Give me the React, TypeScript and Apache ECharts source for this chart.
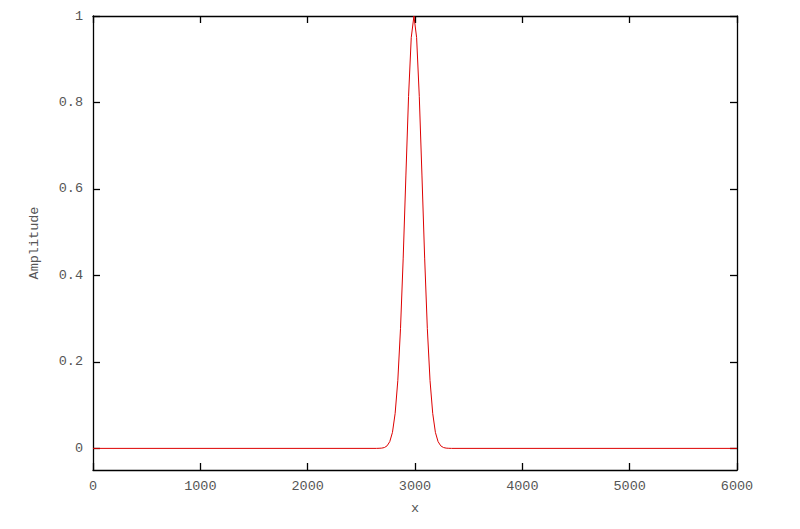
import React, { useEffect, useRef } from "react";
import * as echarts from "echarts";

// Values (25-unit steps around the peak)
const xPositions = [0, 2640, 2665, 2690, 2715, 2740, 2765, 2790, 2815, 2840, 2865, 2890, 2915, 2940, 2965, 2990, 3015, 3040, 3065, 3090, 3115, 3140, 3165, 3190, 3215, 3240, 3265, 3290, 3315, 3340, 6000];
const amplitude = [0, 0, 0.0002, 0.0006, 0.002, 0.0059, 0.0156, 0.037, 0.081, 0.157, 0.277, 0.44, 0.63, 0.814, 0.95, 1, 0.95, 0.814, 0.63, 0.44, 0.277, 0.157, 0.081, 0.037, 0.0156, 0.0059, 0.002, 0.0006, 0.0002, 0, 0];
const yTickValues = [0, 0.2, 0.4, 0.6, 0.8, 1];

const font = "'Liberation Mono', 'DejaVu Sans Mono', monospace";
const textColor = "#555";

export default function App() {
  const ref = useRef<HTMLDivElement>(null);
  useEffect(() => {
    if (!ref.current) return;
    const chart = echarts.init(ref.current, null, { renderer: "svg" });
    const data = xPositions.map((x, i) => [x, amplitude[i]]);
    const axisLine = { show: true, onZero: false, lineStyle: { color: "#000", width: 1.3 } };
    const tick = { show: true, inside: true, length: 7, lineStyle: { color: "#000", width: 1.3 } };
    const lbl = { color: textColor, fontFamily: font, fontSize: 13.5 };
    chart.setOption({
      animation: false,
      backgroundColor: "#fff",
      grid: { left: 93, right: 63, top: 16, bottom: 59 },
      xAxis: [
        {
          type: "value", min: 0, max: 6000, interval: 1000, position: "bottom",
          axisLine, axisTick: tick, splitLine: { show: false },
          axisLabel: { ...lbl, margin: 9, formatter: (v: number) => String(v) },
          name: "x", nameLocation: "middle", nameGap: 31,
          nameTextStyle: { ...lbl },
        },
        {
          type: "value", min: 0, max: 6000, interval: 1000, position: "top",
          axisLine, axisTick: tick, splitLine: { show: false },
          axisLabel: { show: false },
        },
      ],
      yAxis: [
        {
          type: "value", min: -0.05, max: 1, position: "left",
          axisLine, splitLine: { show: false },
          axisTick: { show: false },
          axisLabel: { show: false },
          name: "Amplitude", nameLocation: "middle", nameGap: 52, nameRotate: 90,
          nameTextStyle: { ...lbl },
        },
        {
          type: "value", min: -0.05, max: 1, position: "right",
          axisLine, splitLine: { show: false },
          axisTick: { show: false }, axisLabel: { show: false },
        },
      ],
      series: [
        {
          type: "line", xAxisIndex: 0, yAxisIndex: 0, data,
          showSymbol: false, symbol: "none",
          lineStyle: { color: "#dd0000", width: 1 },
        },
      ],
    });
    const els: any[] = [];
    yTickValues.forEach((v) => {
      const p = chart.convertToPixel({ xAxisIndex: 0, yAxisIndex: 0 }, [0, v]);
      const pr = chart.convertToPixel({ xAxisIndex: 0, yAxisIndex: 0 }, [6000, v]);
      const y = Math.round(p[1]) + 0.5;
      els.push({ type: "line", shape: { x1: p[0], y1: y, x2: p[0] + 7, y2: y }, style: { stroke: "#000", lineWidth: 1.3 }, silent: true });
      els.push({ type: "line", shape: { x1: pr[0] - 7, y1: y, x2: pr[0], y2: y }, style: { stroke: "#000", lineWidth: 1.3 }, silent: true });
      els.push({ type: "text", x: p[0] - 10, y: p[1], style: { text: String(v), fill: textColor, font: `13.5px ${font}`, textAlign: "right", textVerticalAlign: "middle" }, silent: true });
    });
    chart.setOption({ graphic: els });
    return () => chart.dispose();
  }, []);
  return <div ref={ref} style={{ width: 800, height: 529, position: "absolute", left: 0, top: 0 }} />;
}
